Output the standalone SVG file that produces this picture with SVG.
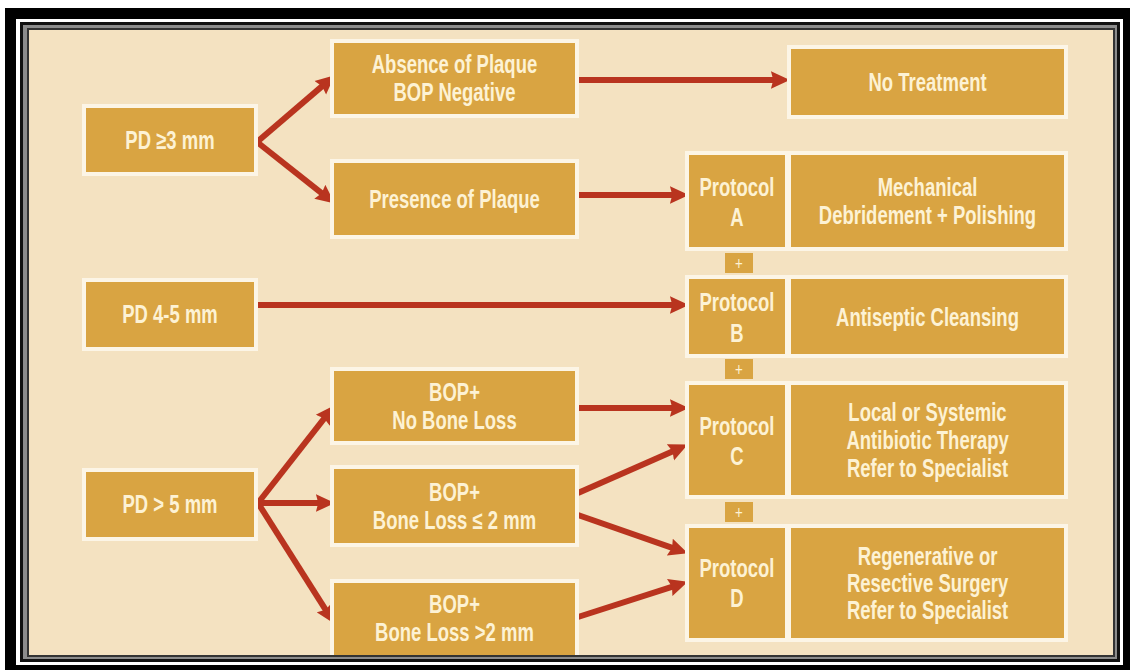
<svg xmlns="http://www.w3.org/2000/svg" width="1132" height="670" viewBox="0 0 1132 670">
<style>
.halo{fill:#fcf5e6}
.box{fill:#d9a442}
.t{font-family:"Liberation Sans",Arial,sans-serif;font-size:25px;font-weight:bold;fill:#fdf2d4;text-anchor:middle;transform-box:fill-box;transform-origin:50% 50%;transform:scaleX(0.74)}
.p{font-size:18px;font-weight:normal}
.c line{stroke:#b9341f;stroke-width:6;fill:none;marker-end:url(#ah)}
</style>
<defs>
<marker id="ah" viewBox="0 0 16 16" refX="6" refY="8" markerUnits="userSpaceOnUse" markerWidth="19" markerHeight="19" orient="auto">
<path d="M0,0.5 L16,8 L0,15.5 L2,8 z" fill="#b9341f"/>
</marker>
</defs>
<rect width="1132" height="670" fill="#fff"/>
<rect x="5" y="8" width="1125" height="662" fill="#000"/>
<rect x="16" y="19" width="1107" height="646" fill="#fff"/>
<rect x="20" y="22" width="1100" height="640" fill="#111"/>
<rect x="23" y="25" width="1094" height="634" fill="#8c8c8c"/>
<rect x="27" y="28" width="1088" height="629" fill="#333"/>
<rect x="29" y="30" width="1084" height="625" fill="#f4e2c1"/>

<g id="connectors" class="c">
<line x1="257" y1="142" x2="325.7" y2="83.1"/>
<line x1="257" y1="142" x2="325.4" y2="196.2"/>
<line x1="578" y1="80" x2="778" y2="80"/>
<line x1="578" y1="195" x2="677" y2="195"/>
<line x1="256" y1="305" x2="677" y2="305"/>
<line x1="258" y1="503" x2="327.2" y2="414.7"/>
<line x1="258" y1="503" x2="323" y2="503"/>
<line x1="258" y1="503" x2="328.1" y2="613.7"/>
<line x1="578" y1="408" x2="677" y2="408"/>
<line x1="578" y1="493" x2="676.9" y2="449.4"/>
<line x1="578" y1="515" x2="676.6" y2="549.4"/>
<line x1="578" y1="617" x2="676.5" y2="585.4"/>
</g>

<g id="pd3">
<rect class="halo" x="82" y="104" width="176" height="72"/>
<rect class="box" x="86" y="108" width="168" height="64"/>
<text class="t" x="170" y="149">PD ≥3 mm</text>
</g>
<g id="pd45">
<rect class="halo" x="82" y="278" width="176" height="73"/>
<rect class="box" x="86" y="282" width="168" height="65"/>
<text class="t" x="170" y="323">PD 4-5 mm</text>
</g>
<g id="pd5">
<rect class="halo" x="82" y="468" width="176" height="73"/>
<rect class="box" x="86" y="472" width="168" height="65"/>
<text class="t" x="170" y="513">PD &gt; 5 mm</text>
</g>

<g id="absence">
<rect class="halo" x="330" y="39" width="249" height="79"/>
<rect class="box" x="334" y="43" width="241" height="71"/>
<text class="t" x="454.5" y="73">Absence of Plaque</text>
<text class="t" x="454.5" y="101">BOP Negative</text>
</g>
<g id="presence">
<rect class="halo" x="330" y="159" width="249" height="80"/>
<rect class="box" x="334" y="163" width="241" height="72"/>
<text class="t" x="454.5" y="208">Presence of Plaque</text>
</g>
<g id="nobone">
<rect class="halo" x="330" y="367" width="249" height="78"/>
<rect class="box" x="334" y="371" width="241" height="70"/>
<text class="t" x="454.5" y="401">BOP+</text>
<text class="t" x="454.5" y="429">No Bone Loss</text>
</g>
<g id="bone2">
<rect class="halo" x="330" y="465" width="249" height="82"/>
<rect class="box" x="334" y="469" width="241" height="74"/>
<text class="t" x="454.5" y="501">BOP+</text>
<text class="t" x="454.5" y="529">Bone Loss ≤ 2 mm</text>
</g>
<g id="bonegt2">
<rect class="halo" x="330" y="579" width="249" height="76"/>
<rect class="box" x="334" y="583" width="241" height="72"/>
<text class="t" x="454.5" y="613">BOP+</text>
<text class="t" x="454.5" y="641">Bone Loss &gt;2 mm</text>
</g>

<g id="notreatment">
<rect class="halo" x="787" y="45" width="281" height="74"/>
<rect class="box" x="791" y="49" width="273" height="66"/>
<text class="t" x="927.5" y="91">No Treatment</text>
</g>

<g id="protocolA">
<rect class="halo" x="685" y="151" width="383" height="100"/>
<rect class="box" x="689" y="155" width="96" height="92"/>
<rect class="box" x="791" y="155" width="273" height="92"/>
<text class="t" x="737" y="196">Protocol</text>
<text class="t" x="737" y="226">A</text>
<text class="t" x="927.5" y="196">Mechanical</text>
<text class="t" x="927.5" y="224">Debridement + Polishing</text>
</g>
<g id="plus1"><rect class="box" x="725" y="253" width="28" height="20"/><text class="t p" x="739" y="270">+</text></g>
<g id="protocolB">
<rect class="halo" x="685" y="275" width="383" height="83"/>
<rect class="box" x="689" y="279" width="96" height="75"/>
<rect class="box" x="791" y="279" width="273" height="75"/>
<text class="t" x="737" y="311">Protocol</text>
<text class="t" x="737" y="342">B</text>
<text class="t" x="927.5" y="326">Antiseptic Cleansing</text>
</g>
<g id="plus2"><rect class="box" x="725" y="359" width="28" height="20"/><text class="t p" x="739" y="376">+</text></g>
<g id="protocolC">
<rect class="halo" x="685" y="381" width="383" height="118"/>
<rect class="box" x="689" y="385" width="96" height="110"/>
<rect class="box" x="791" y="385" width="273" height="110"/>
<text class="t" x="737" y="435">Protocol</text>
<text class="t" x="737" y="465">C</text>
<text class="t" x="927.5" y="421">Local or Systemic</text>
<text class="t" x="927.5" y="449">Antibiotic Therapy</text>
<text class="t" x="927.5" y="477">Refer to Specialist</text>
</g>
<g id="plus3"><rect class="box" x="725" y="502" width="28" height="20"/><text class="t p" x="739" y="519">+</text></g>
<g id="protocolD">
<rect class="halo" x="685" y="524" width="383" height="118"/>
<rect class="box" x="689" y="528" width="96" height="110"/>
<rect class="box" x="791" y="528" width="273" height="110"/>
<text class="t" x="737" y="577">Protocol</text>
<text class="t" x="737" y="607">D</text>
<text class="t" x="927.5" y="565">Regenerative or</text>
<text class="t" x="927.5" y="592">Resective Surgery</text>
<text class="t" x="927.5" y="619">Refer to Specialist</text>
</g>
</svg>
